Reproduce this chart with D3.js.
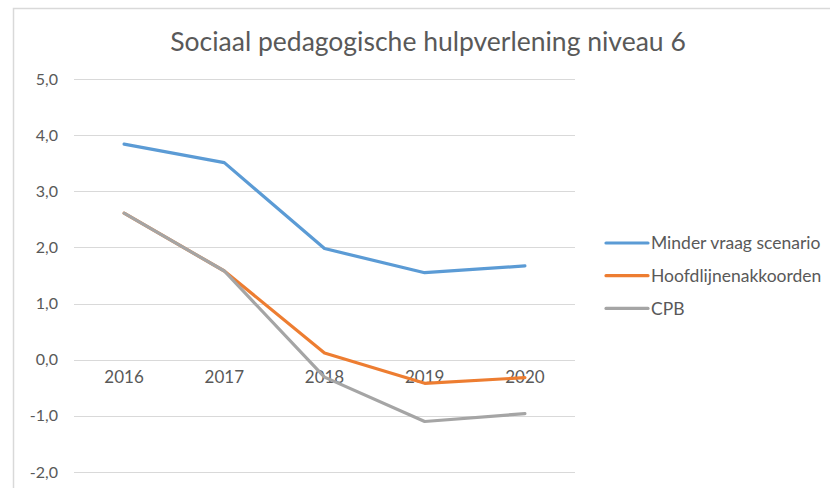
<!DOCTYPE html>
<html>
<head>
<meta charset="utf-8">
<script src="https://cdn.jsdelivr.net/npm/d3@7"></script>
<style>
  body { margin: 0; background: #fff; }
  svg text { font-family: Lato, "Open Sans", sans-serif; fill: #595959; }
</style>
</head>
<body>
<svg id="chart"></svg>
<script>
var width = 830,
    height = 488;

// data
var years = ['2016', '2017', '2018', '2019', '2020'];
var minderVraag = [3.84, 3.51, 1.98, 1.55, 1.67];
var hoofdlijnen = [2.61, 1.58, 0.12, -0.42, -0.32];
var cpb = [2.61, 1.58, -0.31, -1.10, -0.96];
var seriesNames = ['Minder vraag scenario', 'Hoofdlijnenakkoorden', 'CPB'];
var seriesColors = ['#5B9BD5', '#ED7D31', '#A5A5A5'];
var yTicks = [-2, -1, 0, 1, 2, 3, 4, 5];

var series = [minderVraag, hoofdlijnen, cpb];

var svg = d3.select('#chart')
  .attr('width', width)
  .attr('height', height);

// chart border (only top + left visible)
svg.append('path')
  .attr('d', 'M13.5,' + height + 'V8.5H' + width)
  .attr('fill', 'none')
  .attr('stroke', '#D9D9D9')
  .attr('stroke-width', 1.5);

// title
svg.append('text')
  .attr('x', 428)
  .attr('y', 51)
  .attr('text-anchor', 'middle')
  .style('font-size', '26.5px')
  .text('Sociaal pedagogische hulpverlening niveau 6');

var x = d3.scaleBand()
  .domain(years)
  .range([74, 575]);

var y = d3.scaleLinear()
  .domain([-2, 5])
  .range([472, 79]);

var fmt = function(d) { return d3.format('.1f')(d).replace('.', ',').replace('−', '-'); };

// gridlines
svg.append('g')
  .selectAll('line')
  .data(yTicks)
  .join('line')
  .attr('x1', 74)
  .attr('x2', 575)
  .attr('y1', d => Math.round(y(d)) + 0.5)
  .attr('y2', d => Math.round(y(d)) + 0.5)
  .attr('stroke', '#D9D9D9')
  .attr('stroke-width', 1.2);

// y labels
svg.append('g')
  .selectAll('text')
  .data(yTicks)
  .join('text')
  .attr('x', 58)
  .attr('y', d => y(d))
  .attr('dy', '0.35em')
  .attr('text-anchor', 'end')
  .style('font-size', '16px')
  .text(fmt);

// x labels (sit just under the zero line)
svg.append('g')
  .selectAll('text')
  .data(years)
  .join('text')
  .attr('x', d => x(d) + x.bandwidth() / 2)
  .attr('y', y(0) + 23)
  .attr('text-anchor', 'middle')
  .style('font-size', '17px')
  .text(d => d);

var line = d3.line()
  .x((d, i) => x(years[i]) + x.bandwidth() / 2)
  .y(d => y(d));

svg.append('g')
  .selectAll('path')
  .data(series)
  .join('path')
  .attr('d', line)
  .attr('fill', 'none')
  .attr('stroke', (d, i) => seriesColors[i])
  .attr('stroke-width', 3.2)
  .attr('stroke-linecap', 'round')
  .attr('stroke-linejoin', 'round');

// legend
var legend = svg.append('g')
  .selectAll('g')
  .data(seriesNames)
  .join('g')
  .attr('transform', (d, i) => 'translate(0,' + (243 + i * 32.7) + ')');

legend.append('line')
  .attr('x1', 606)
  .attr('x2', 648)
  .attr('stroke', (d, i) => seriesColors[i])
  .attr('stroke-width', 3.2)
  .attr('stroke-linecap', 'round');

legend.append('text')
  .attr('x', 651)
  .attr('dy', '0.35em')
  .style('font-size', '17.5px')
  .text(d => d);
</script>
</body>
</html>
